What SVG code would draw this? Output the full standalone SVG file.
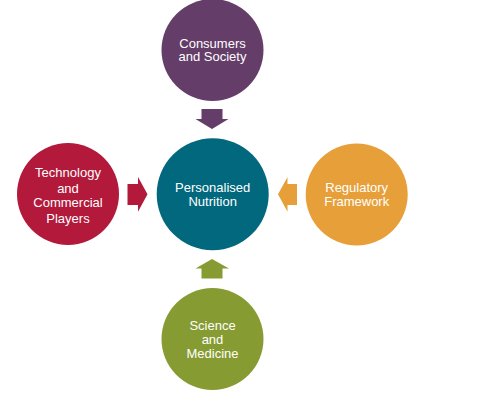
<svg xmlns="http://www.w3.org/2000/svg" width="495" height="416" viewBox="0 0 495 416">
<style>
text{font-family:"Liberation Sans",Arial,sans-serif;font-size:13px;fill:#ffffff;text-anchor:middle}
</style>
<rect width="495" height="416" fill="#ffffff"/>
<g id="connectors">
<polygon points="201.5,109 222.5,109 222.5,119 228.5,119 212,129 195.5,119 201.5,119" fill="#643d68"/>
<polygon points="127.5,184 138,184 138,177 147.5,194.3 138,211.7 138,205 127.5,205" fill="#b2193b"/>
<polygon points="297,184 287.5,184 287.5,177 278,194.3 287.5,211.7 287.5,205 297,205" fill="#e79f39"/>
<polygon points="201.5,278.5 222.5,278.5 222.5,268.5 229,268.5 212,259 195.5,268.5 201.5,268.5" fill="#869b31"/>
</g>
<g id="consumers">
<circle cx="212.5" cy="50" r="51" fill="#643d68"/>
<text x="212.5" y="47.5">Consumers</text>
<text x="212.5" y="61">and Society</text>
</g>
<g id="center">
<circle cx="212.7" cy="194.2" r="56" fill="#02687d"/>
<text x="212.7" y="192">Personalised</text>
<text x="212.7" y="205.5">Nutrition</text>
</g>
<g id="technology">
<circle cx="68" cy="194" r="51" fill="#b2193b"/>
<text x="68" y="177">Technology</text>
<text x="68" y="192.5">and</text>
<text x="68" y="207">Commercial</text>
<text x="68" y="222.5">Players</text>
</g>
<g id="regulatory">
<circle cx="356.7" cy="194.5" r="51" fill="#e79f39"/>
<text x="356.7" y="192">Regulatory</text>
<text x="356.7" y="205.5">Framework</text>
</g>
<g id="science">
<circle cx="212.5" cy="339" r="51" fill="#869b31"/>
<text x="212.5" y="329.5">Science</text>
<text x="212.5" y="343.5">and</text>
<text x="212.5" y="357.5">Medicine</text>
</g>
</svg>
